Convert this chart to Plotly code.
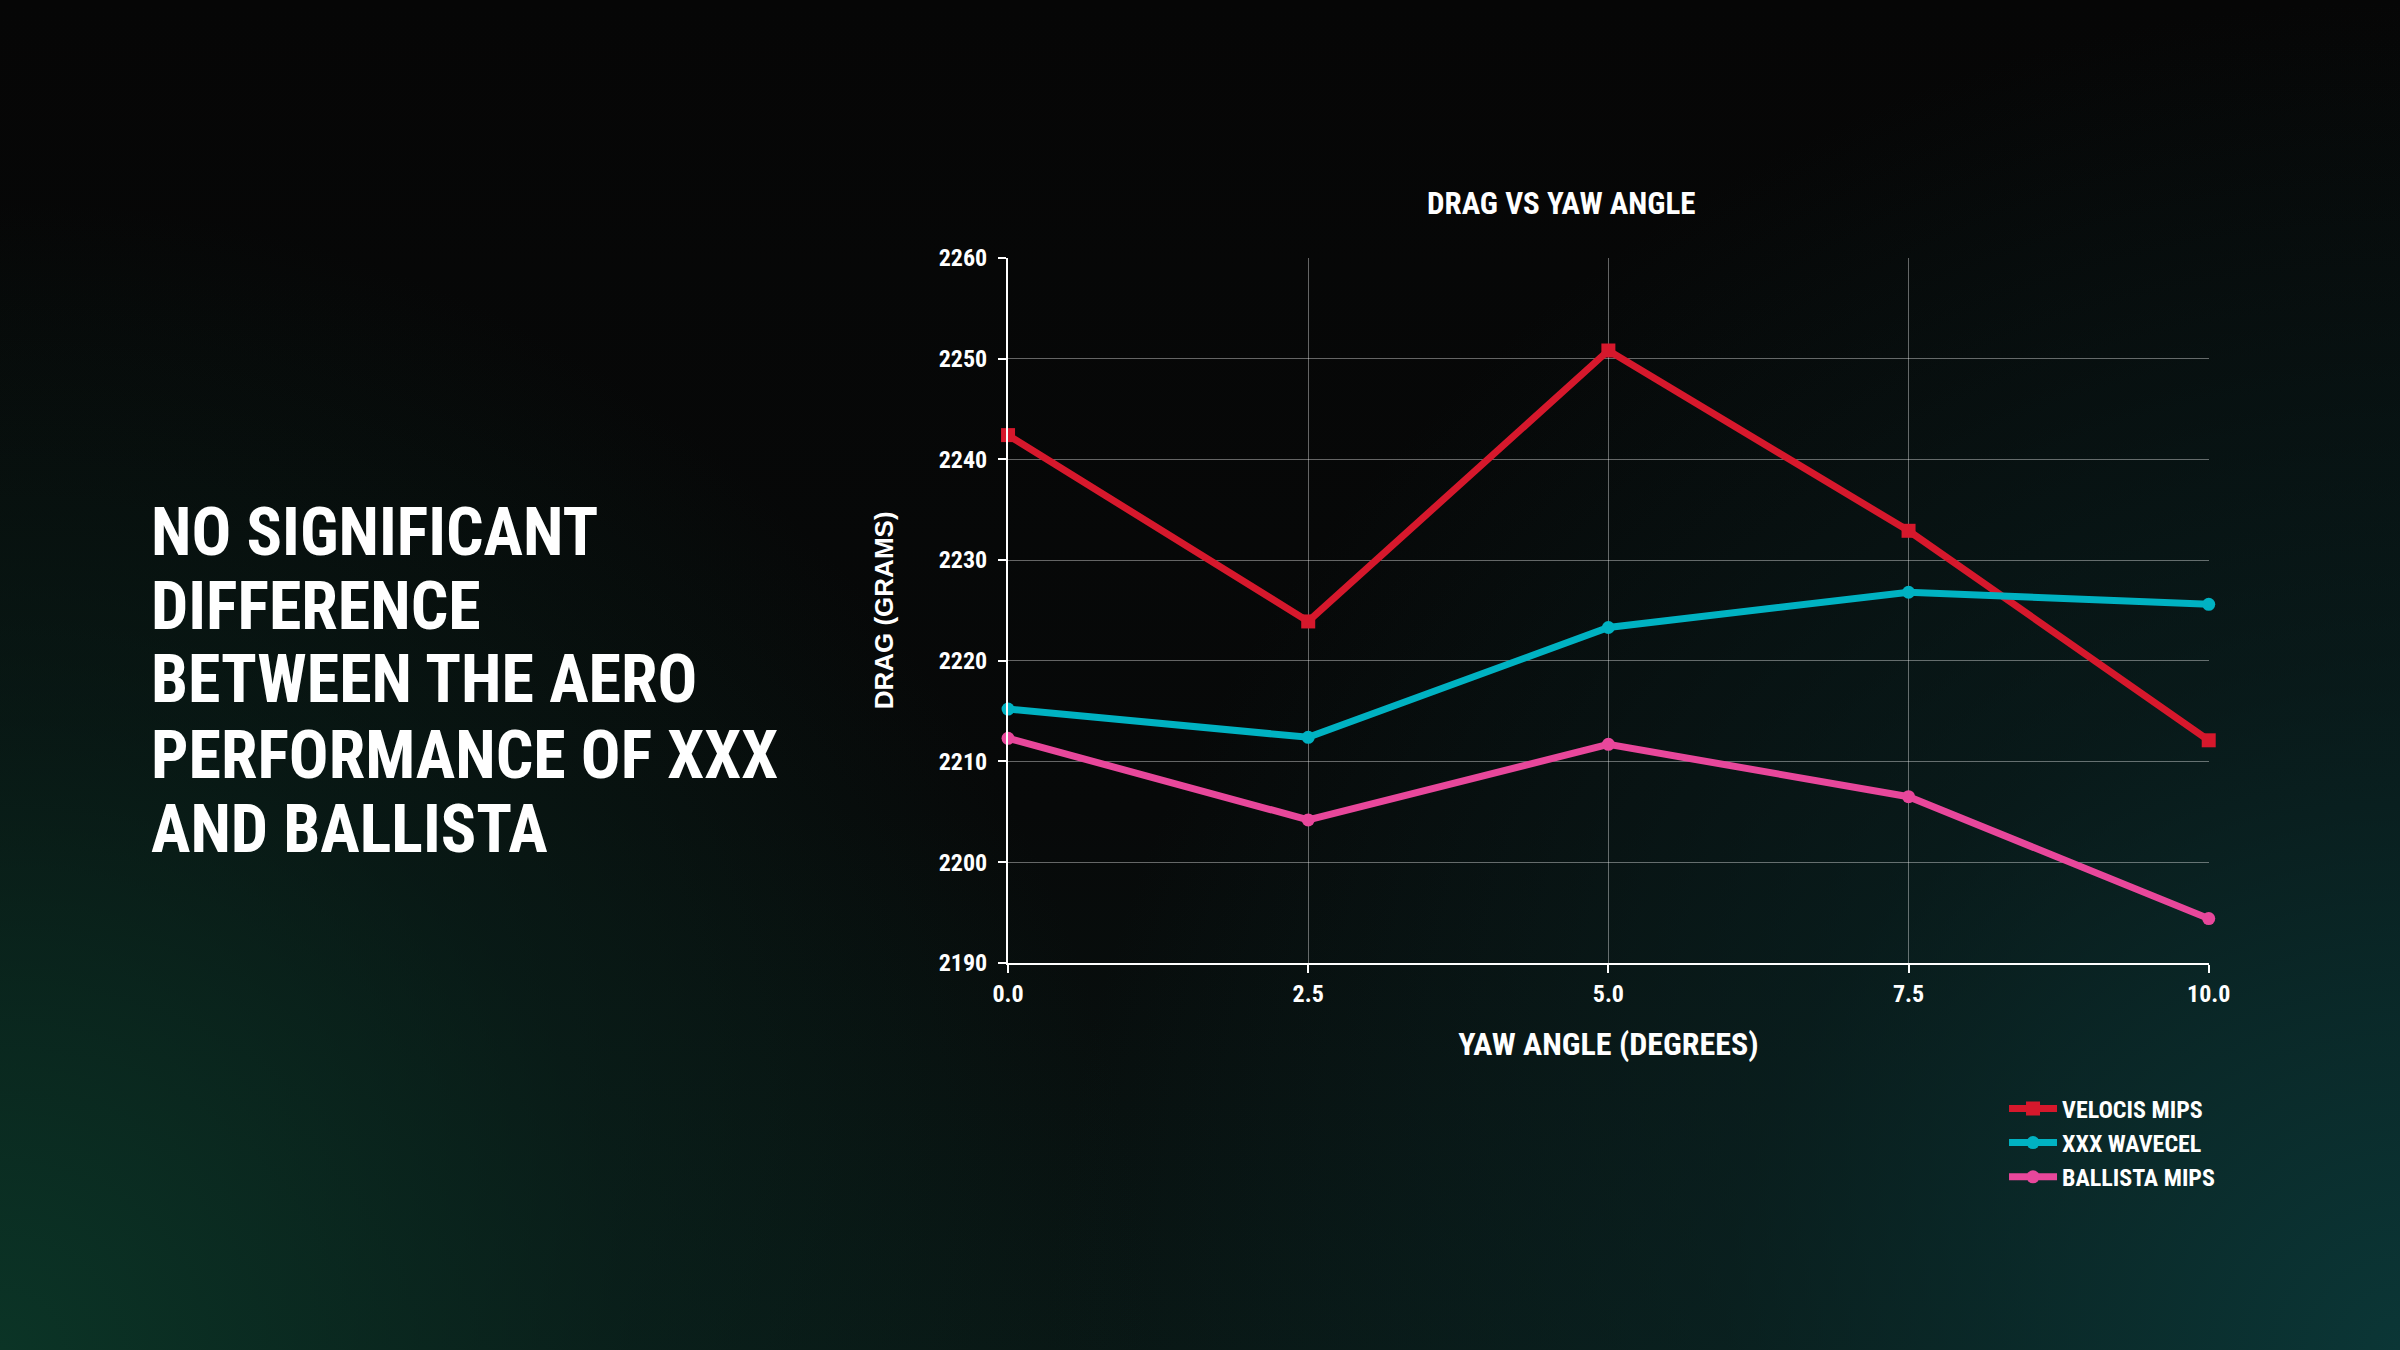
import plotly.graph_objects as go

# ---- data ----
yaw_angle = [0.0, 2.5, 5.0, 7.5, 10.0]
velocis_mips = [2242.4, 2223.9, 2250.8, 2232.9, 2212.1]
xxx_wavecel = [2215.2, 2212.4, 2223.3, 2226.8, 2225.6]
ballista_mips = [2212.3, 2204.2, 2211.7, 2206.5, 2194.4]
series_names = ["VELOCIS MIPS", "XXX WAVECEL", "BALLISTA MIPS"]
y_ticks = [2190, 2200, 2210, 2220, 2230, 2240, 2250, 2260]
x_ticks = [0.0, 2.5, 5.0, 7.5, 10.0]
headline = ["NO SIGNIFICANT", "DIFFERENCE", "BETWEEN THE AERO", "PERFORMANCE OF XXX", "AND BALLISTA"]

W, H = 2400, 1350
COND = "Roboto Condensed, Noto Sans Condensed, Liberation Sans Narrow, Roboto, sans-serif"
WIDE = "Liberation Sans, Arial, sans-serif"

BG_CSS = ("radial-gradient(circle 1150px at 0% 100%, rgba(11,52,38,1) 0%, rgba(10,42,34,0.45) 55%, rgba(10,42,34,0) 100%),"
          "radial-gradient(circle 1350px at 100% 100%, rgba(11,54,54,1) 0%, rgba(10,42,42,0.5) 50%, rgba(10,42,42,0) 100%),"
          "linear-gradient(180deg, #060606 0%, #070909 60%, #091614 100%)")

fig = go.Figure()
fig.add_trace(go.Scatter(x=yaw_angle, y=velocis_mips, name=series_names[0], mode="lines+markers",
                         line=dict(color="#d6182c", width=7), cliponaxis=False,
                         marker=dict(symbol="square", size=14, color="#d6182c")))
fig.add_trace(go.Scatter(x=yaw_angle, y=xxx_wavecel, name=series_names[1], mode="lines+markers",
                         line=dict(color="#00b2c2", width=7), cliponaxis=False,
                         marker=dict(symbol="circle", size=13, color="#00b2c2")))
fig.add_trace(go.Scatter(x=yaw_angle, y=ballista_mips, name=series_names[2], mode="lines+markers",
                         line=dict(color="#e8479b", width=7), cliponaxis=False,
                         marker=dict(symbol="circle", size=13, color="#e8479b")))

fig.update_layout(
    autosize=True,
    margin=dict(l=0, r=0, t=0, b=0),
    paper_bgcolor="rgba(0,0,0,0)",
    plot_bgcolor="rgba(0,0,0,0)",
    xaxis=dict(domain=[1008 / W, 2228 / W], range=[0, 10], tickvals=x_ticks,
               ticktext=[f"{v:.1f}" for v in x_ticks],
               showline=True, linecolor="white", linewidth=2,
               ticks="outside", ticklen=8, tickcolor="white", tickwidth=2,
               showgrid=True, gridcolor="rgba(255,255,255,0.38)", gridwidth=1,
               zeroline=False,
               tickfont=dict(family=COND, size=24, color="white", weight="bold"),
               title=dict(text="YAW ANGLE (DEGREES)", standoff=26,
                          font=dict(family=COND, size=32, color="white", weight="bold"))),
    yaxis=dict(domain=[1 - 969 / H, 1 - 249 / H], range=[2190, 2260], tickvals=y_ticks,
               showline=True, linecolor="white", linewidth=2,
               ticks="outside", ticklen=8, tickcolor="white", tickwidth=2,
               showgrid=True, gridcolor="rgba(255,255,255,0.38)", gridwidth=1,
               zeroline=False, ticklabelstandoff=6,
               tickfont=dict(family=COND, size=24, color="white", weight="bold"),
               title=dict(text="DRAG (GRAMS)", standoff=38,
                          font=dict(family=WIDE, size=26, color="white", weight="bold"))),
    legend=dict(x=2020 / W, y=1 - 1095 / H, xanchor="left", yanchor="top",
                bgcolor="rgba(0,0,0,0)", font=dict(family=COND, size=24, color="white", weight="bold"),
                itemwidth=48, tracegroupgap=0),
    showlegend=True,
)

annotations = [dict(text="DRAG VS YAW ANGLE", x=1570 / W, y=1 - 194 / H, xref="paper", yref="paper",
                    showarrow=False, xanchor="center", yanchor="middle",
                    font=dict(family=COND, size=31, color="white", weight="bold"))]
line_y = [529, 605, 680, 757, 833]
for txt, yy in zip(headline, line_y):
    annotations.append(dict(text=txt, x=136 / W, y=1 - yy / H, xref="paper", yref="paper",
                            showarrow=False, xanchor="left", yanchor="middle", borderpad=0,
                            font=dict(family=COND, size=66, color="white", weight="bold")))
fig.update_layout(annotations=annotations)

post = (
    "var s=document.documentElement.style;"
    "s.margin='0';s.height='100%';s.background='" + BG_CSS + "';s.backgroundColor='#060606';"
    "document.body.style.margin='0';document.body.style.overflow='hidden';"
    "document.body.style.background='transparent';"
    "window.dispatchEvent(new Event('resize'));"
)
fig.write_html("out.html", default_width="100vw", default_height="100vh",
               config={"displayModeBar": False, "responsive": True},
               post_script=post)
